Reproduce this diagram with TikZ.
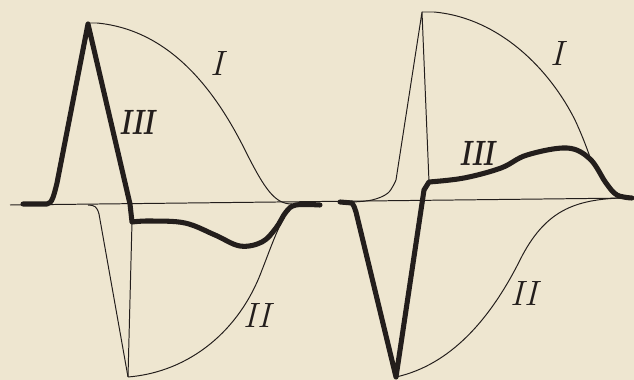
\documentclass[tikz,border=0pt]{standalone}
\usetikzlibrary{positioning}
\definecolor{paper}{RGB}{238,230,208}
\definecolor{ink}{RGB}{35,30,28}

\begin{document}
\begin{tikzpicture}[x=0.025cm,y=-0.025cm,
                    thincurve/.style={ink,line width=0.7pt,line join=round},
                    thickcurve/.style={ink,line width=3.6pt,line join=round,
                                       line cap=round},
                    numeral/.style={ink,font=\fontsize{25}{25}\selectfont\itshape},
                    numeralbold/.style={ink,xscale=0.72,
                                        font=\fontsize{25}{25}\selectfont\bfseries\itshape}]
  \fill[paper] (0,0) rectangle (634,380);
  \useasboundingbox (0,0) rectangle (634,380);

  % zero line
  \draw[thincurve] (10,205) -- (632,198);

  % left wave: curves I and II
  \draw[thincurve] (88,23) -- (97,23) .. controls (170,30) and (215,90) .. (245,150)
        .. controls (265,190) and (275,204) .. (292,204);
  \draw[thincurve] (88,205) .. controls (95,205) and (97,207) .. (99,214) -- (128,377);
  \draw[thincurve] (132,222) -- (128,377);
  \draw[thincurve] (128,377) .. controls (190,372) and (240,330) .. (262,270)
        .. controls (270,250) and (278,225) .. (290,208);
  % left wave: curve III
  \draw[thickcurve] (23,204) -- (47,204) .. controls (52,204) and (54,195) .. (57,183)
        -- (88,24) -- (130,204) -- (132,222)
        -- plot[smooth,tension=0.6] coordinates
        {(132,222) (150,221) (185,223) (215,235) (240,246) (262,242) (276,228) (286,212) (296,205) (320,205)};

  % right wave: curves I and II
  \draw[thincurve] plot[smooth,tension=0.6] coordinates
        {(352,202) (372,200) (388,193) (396,180)} -- (422,12) -- (429,182);
  \draw[thincurve] (422,12) -- (434,12) .. controls (500,18) and (550,70) .. (575,120)
        .. controls (582,135) and (586,146) .. (590,157);
  \draw[thincurve] (396,377) .. controls (450,365) and (490,320) .. (520,260)
        .. controls (545,210) and (575,200) .. (620,198);
  % right wave: curve III
  \draw[thickcurve] (340,202) -- (352,203) .. controls (354,206) .. (356,212)
        -- (396,377) -- (424,190) -- (429,182)
        -- plot[smooth,tension=0.6] coordinates
        {(429,182) (464,178) (501,168) (527,155) (567,148) (590,159) (606,183) (617,195) (632,198)};

  % labels
  \node[numeral]     (leftone)    at (217,63)  {I};
  \node[numeral]     (lefttwo)    at (257,315) {II};
  \node[numeralbold] (leftthree)  at (137,122) {III};
  \node[numeral]     (rightone)   at (557,53)  {I};
  \node[numeral]     (righttwo)   at (524,293) {II};
  \node[numeralbold] (rightthree) at (477,153) {III};
\end{tikzpicture}
\end{document}
